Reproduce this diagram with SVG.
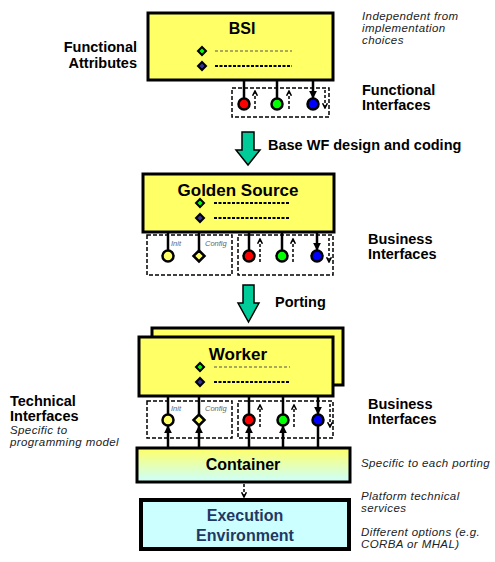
<svg xmlns="http://www.w3.org/2000/svg" width="495" height="562" viewBox="0 0 495 562">
  <defs>
    <style>
      .box { fill: #ffff66; stroke: #000; stroke-width: 3; }
      .title { font-family: "Liberation Sans", Arial, sans-serif; font-weight: bold; fill: #000; text-anchor: middle; }
      .lbl { font-family: "Liberation Sans", Arial, sans-serif; font-weight: bold; font-size: 14.5px; fill: #000; }
      .note { font-family: "Liberation Sans", Arial, sans-serif; font-style: italic; font-size: 11.5px; letter-spacing: 0.4px; fill: #222; }
      .tiny { font-family: "Liberation Sans", Arial, sans-serif; font-style: italic; font-size: 7.5px; fill: #666; }
      .ifbox { fill: none; stroke: #000; stroke-width: 1.5; stroke-dasharray: 4 2; }
      .dash1 { stroke: #555; stroke-width: 1.2; stroke-dasharray: 3 2; fill: none; }
      .dash2 { stroke: #000; stroke-width: 2; stroke-dasharray: 3 1.5; fill: none; }
      .wire { stroke: #000; stroke-width: 2.5; fill: none; }
      .dwire { stroke: #000; stroke-width: 1.5; stroke-dasharray: 3 2; fill: none; }
      .port { stroke: #000; stroke-width: 2.5; }
      .bigarrow { fill: #00cc99; stroke: #000; stroke-width: 1.5; }
    </style>
    <marker id="head" viewBox="0 0 10 10" refX="9" refY="5" markerWidth="3.2" markerHeight="3.2" orient="auto" markerUnits="strokeWidth">
      <path d="M0,0 L10,5 L0,10 z" fill="#000"/>
    </marker>
    <marker id="chev" viewBox="0 0 10 10" refX="9" refY="5" markerWidth="4" markerHeight="4" orient="auto" markerUnits="strokeWidth">
      <path d="M1,1 L9,5 L1,9" fill="none" stroke="#000" stroke-width="2.5"/>
    </marker>
    <linearGradient id="contGrad" x1="0" y1="0" x2="0" y2="1">
      <stop offset="0" stop-color="#ffff66"/>
      <stop offset="1" stop-color="#ccffff"/>
    </linearGradient>
  </defs>
  <rect width="495" height="562" fill="#fff"/>

  <!-- BSI -->
  <g id="bsi">
    <rect class="box" x="148" y="13" width="185" height="67"/>
    <text class="title" x="242" y="34" font-size="16">BSI</text>
    <path d="M202,47 L206,51 L202,55 L198,51 z" fill="#00ff00" stroke="#000" stroke-width="2"/>
    <path d="M202,62 L206,66 L202,70 L198,66 z" fill="#333399" stroke="#000" stroke-width="2"/>
    <line class="dash1" x1="215" y1="51" x2="292" y2="51"/>
    <line class="dash2" x1="215" y1="66" x2="292" y2="66"/>
  </g>

  <g id="bsi-interfaces">
    <rect class="ifbox" x="232" y="88" width="97" height="29"/>
    <circle class="port" cx="244" cy="104" r="5.5" fill="#ff0000"/>
    <circle class="port" cx="277" cy="104" r="5.5" fill="#00ff00"/>
    <circle class="port" cx="313" cy="104" r="5.5" fill="#0000ff"/>
  </g>

  <!-- Golden Source -->
  <g id="golden-source">
    <rect class="box" x="143" y="174" width="191" height="58"/>
    <text class="title" x="238" y="196" font-size="17">Golden Source</text>
    <path d="M200,199 L204,203 L200,207 L196,203 z" fill="#00ff00" stroke="#000" stroke-width="2"/>
    <path d="M200,214 L204,218 L200,222 L196,218 z" fill="#333399" stroke="#000" stroke-width="2"/>
    <line class="dash2" x1="214" y1="203" x2="290" y2="203"/>
    <line class="dash2" x1="214" y1="218" x2="290" y2="218"/>
  </g>

  <g id="gs-interfaces">
    <rect class="ifbox" x="147" y="235" width="85" height="40"/>
    <rect class="ifbox" x="238" y="235" width="95" height="40"/>
    <text class="tiny" x="171" y="246">Init</text>
    <text class="tiny" x="205" y="246">Config</text>
    <circle class="port" cx="168" cy="256" r="5.5" fill="#ffff66"/>
    <path class="port" d="M199,250.5 L204.5,256 L199,261.5 L193.5,256 z" fill="#ffff66"/>
    <circle class="port" cx="249" cy="256" r="5.5" fill="#ff0000"/>
    <circle class="port" cx="282" cy="256" r="5.5" fill="#00ff00"/>
    <circle class="port" cx="317" cy="256" r="5.5" fill="#0000ff"/>
  </g>

  <!-- Worker (stacked instances) -->
  <g id="worker">
    <rect class="box" x="152" y="328" width="191" height="57"/>
    <rect class="box" x="139" y="337" width="194" height="59"/>
    <text class="title" x="238" y="360" font-size="17">Worker</text>
    <path d="M200,363 L204,367 L200,371 L196,367 z" fill="#00ff00" stroke="#000" stroke-width="2"/>
    <path d="M200,378 L204,382 L200,386 L196,382 z" fill="#333399" stroke="#000" stroke-width="2"/>
    <line class="dash1" x1="214" y1="367" x2="290" y2="367"/>
    <line class="dash2" x1="214" y1="382" x2="290" y2="382"/>
  </g>

  <g id="worker-interfaces">
    <rect class="ifbox" x="147" y="401" width="85" height="37"/>
    <rect class="ifbox" x="238" y="401" width="95" height="37"/>
    <text class="tiny" x="171" y="411">Init</text>
    <text class="tiny" x="205" y="411">Config</text>
  </g>

  <!-- Container -->
  <g id="container">
    <rect x="137" y="448" width="213" height="34" fill="url(#contGrad)" stroke="#000" stroke-width="3"/>
    <text class="title" x="243" y="470" font-size="16">Container</text>
  </g>

  <!-- Execution Environment -->
  <g id="execution-environment">
    <rect x="141" y="500" width="208" height="49" fill="#ccffff" stroke="#000" stroke-width="4"/>
    <text class="title" x="245" y="521" font-size="16" style="fill:#1f3864">Execution</text>
    <text class="title" x="245" y="541" font-size="16" style="fill:#1f3864">Environment</text>
  </g>

  <!-- Connectors -->
  <g id="connectors">
    <!-- BSI functional interfaces -->
    <line class="wire" x1="244" y1="81" x2="244" y2="98"/>
    <line class="wire" x1="277" y1="81" x2="277" y2="98"/>
    <line class="wire" x1="313" y1="81" x2="313" y2="98" marker-end="url(#head)"/>
    <line class="dwire" x1="255" y1="109" x2="255" y2="91" marker-end="url(#chev)"/>
    <line class="dwire" x1="289" y1="109" x2="289" y2="91" marker-end="url(#chev)"/>
    <line class="dwire" x1="325" y1="90" x2="325" y2="108" marker-end="url(#chev)"/>

    <!-- Base WF design and coding -->
    <path class="bigarrow" d="M242,132 L254,132 L254,150 L260,150 L248,165 L236,150 L242,150 z"/>

    <!-- Golden Source interfaces -->
    <line class="wire" x1="168" y1="233" x2="168" y2="250"/>
    <line class="wire" x1="199" y1="233" x2="199" y2="250"/>
    <line class="wire" x1="249" y1="233" x2="249" y2="250"/>
    <line class="wire" x1="282" y1="233" x2="282" y2="250"/>
    <line class="wire" x1="317" y1="233" x2="317" y2="250" marker-end="url(#head)"/>
    <line class="dwire" x1="260" y1="262" x2="260" y2="239" marker-end="url(#chev)"/>
    <line class="dwire" x1="293" y1="262" x2="293" y2="239" marker-end="url(#chev)"/>
    <line class="dwire" x1="329" y1="238" x2="329" y2="262" marker-end="url(#chev)"/>

    <!-- Porting -->
    <path class="bigarrow" d="M243,285 L254,285 L254,303 L259,303 L248.5,322 L238,303 L243,303 z"/>

    <!-- Worker interfaces: from worker down to ports, from container up to ports -->
    <line class="wire" x1="168" y1="397" x2="168" y2="414"/>
    <line class="wire" x1="199" y1="397" x2="199" y2="414"/>
    <line class="wire" x1="249" y1="397" x2="249" y2="414"/>
    <line class="wire" x1="283" y1="397" x2="283" y2="414"/>
    <line class="wire" x1="318" y1="397" x2="318" y2="414" marker-end="url(#head)"/>
    <line class="wire" x1="168" y1="447" x2="168" y2="426" marker-end="url(#head)"/>
    <line class="wire" x1="199" y1="447" x2="199" y2="426" marker-end="url(#head)"/>
    <line class="wire" x1="249" y1="447" x2="249" y2="426" marker-end="url(#head)"/>
    <line class="wire" x1="283" y1="447" x2="283" y2="426" marker-end="url(#head)"/>
    <line class="wire" x1="318" y1="447" x2="318" y2="426"/>
    <circle class="port" cx="168" cy="420" r="5.5" fill="#ffff66"/>
    <path class="port" d="M199,414.5 L204.5,420 L199,425.5 L193.5,420 z" fill="#ffff66"/>
    <circle class="port" cx="249" cy="420" r="5.5" fill="#ff0000"/>
    <circle class="port" cx="283" cy="420" r="5.5" fill="#00ff00"/>
    <circle class="port" cx="318" cy="420" r="5.5" fill="#0000ff"/>
    <line class="dwire" x1="260" y1="427" x2="260" y2="405" marker-end="url(#chev)"/>
    <line class="dwire" x1="294" y1="427" x2="294" y2="405" marker-end="url(#chev)"/>
    <line class="dwire" x1="330" y1="404" x2="330" y2="427" marker-end="url(#chev)"/>

    <!-- Container to execution environment -->
    <line class="dwire" x1="244" y1="484" x2="244" y2="497" marker-end="url(#chev)"/>
  </g>

  <!-- Side labels -->
  <g id="labels">
    <text class="lbl" x="137" y="52" text-anchor="end">Functional</text>
    <text class="lbl" x="137" y="68" text-anchor="end">Attributes</text>
    <text class="note" x="362" y="20">Independent from</text>
    <text class="note" x="362" y="32">implementation</text>
    <text class="note" x="362" y="44">choices</text>
    <text class="lbl" x="362" y="95">Functional</text>
    <text class="lbl" x="362" y="110">Interfaces</text>
    <text class="lbl" x="268" y="150">Base WF design and coding</text>
    <text class="lbl" x="368" y="244">Business</text>
    <text class="lbl" x="368" y="259">Interfaces</text>
    <text class="lbl" x="275" y="307">Porting</text>
    <text class="lbl" x="10" y="406">Technical</text>
    <text class="lbl" x="10" y="421">Interfaces</text>
    <text class="note" x="10" y="434">Specific to</text>
    <text class="note" x="10" y="446">programming model</text>
    <text class="lbl" x="368" y="409">Business</text>
    <text class="lbl" x="368" y="424">Interfaces</text>
    <text class="note" x="361" y="467">Specific to each porting</text>
    <text class="note" x="361" y="500">Platform technical</text>
    <text class="note" x="361" y="512">services</text>
    <text class="note" x="361" y="536">Different options (e.g.</text>
    <text class="note" x="361" y="548">CORBA or MHAL)</text>
  </g>
</svg>
